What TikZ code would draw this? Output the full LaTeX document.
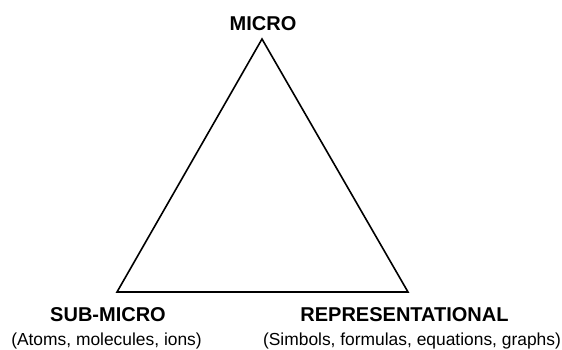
\documentclass[tikz,border=0pt]{standalone}
\usepackage{fontspec}
\setmainfont{Liberation Sans}
\usetikzlibrary{positioning}

\begin{document}
\begin{tikzpicture}[x=1pt,y=-1pt,
		level/.style={font=\bfseries\fontsize{20}{23}\selectfont, inner sep=0pt, anchor=base},
		example/.style={font=\fontsize{17.4}{20}\selectfont, inner sep=0pt},
		side/.style={line width=1.6pt, line join=miter}
		]
		\useasboundingbox (0,0) rectangle (562,349);
		
		% Corners
		\coordinate (top) at (262,39);
		\coordinate (left) at (117,292);
		\coordinate (right) at (408,292);
		
		% Triangle
		\draw[side] (top) -- (left) -- (right) -- cycle;
		
		% Levels
		\node[level] (micro) at (263,30) {MICRO};
		\node[level] (submicro) at (108,321.5) {SUB-MICRO};
		\node[level] (repr) at (404.5,321.5) {REPRESENTATIONAL};
		\node[example, below=24.2pt of submicro.base, anchor=base, xshift=-1.5pt] (atoms) {(Atoms, molecules, ions)};
		\node[example, below=24.2pt of repr.base, anchor=base, xshift=7.5pt] (symbols) {(Simbols, formulas, equations, graphs)};
		
	\end{tikzpicture}
\end{document}
